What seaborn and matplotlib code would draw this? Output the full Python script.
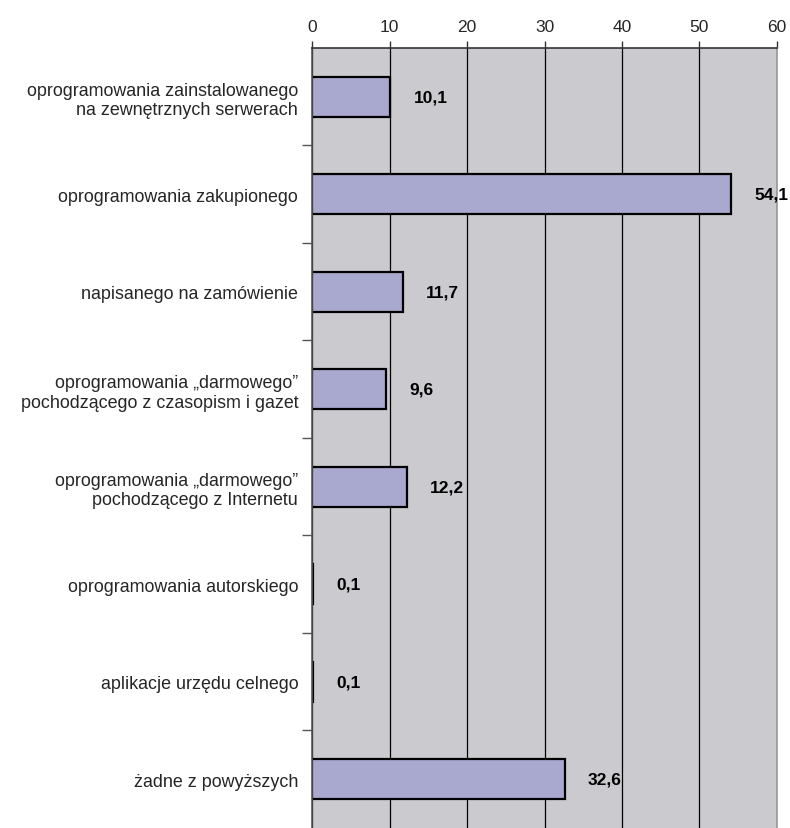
import matplotlib
matplotlib.use("Agg")
import matplotlib.pyplot as plt
import seaborn as sns
import pandas as pd
import numpy as np

# --- Data ---
categories = [
    "oprogramowania zainstalowanego\nna zewnętrznych serwerach",
    "oprogramowania zakupionego",
    "napisanego na zamówienie",
    "oprogramowania \u201edarmowego\u201d\npochodzącego z czasopism i gazet",
    "oprogramowania \u201edarmowego\u201d\npochodzącego z Internetu",
    "oprogramowania autorskiego",
    "aplikacje urzędu celnego",
    "żadne z powyższych",
]
values = [10.1, 54.1, 11.7, 9.6, 12.2, 0.1, 0.1, 32.6]
x_ticks = [0, 10, 20, 30, 40, 50, 60]

df = pd.DataFrame({"category": categories, "value": values})

sns.set_theme(style="white")
plt.rcParams["font.family"] = ["Liberation Sans", "DejaVu Sans"]

fig = plt.figure(figsize=(7.9, 8.29), dpi=100)
ax = fig.add_axes([0.395, 0.0, 0.5885, 0.941])
ax.set_facecolor("#CACACF")

sns.barplot(data=df, x="value", y="category", orient="h", color="#A9A8CF",
            saturation=1, width=0.41, edgecolor="black", linewidth=1.6, ax=ax)

ax.set_xlim(0, 60)
ax.set_ylim(len(categories) - 0.5, -0.5)
ax.xaxis.tick_top()
ax.set_xticks(x_ticks)
ax.set_xticklabels([str(t) for t in x_ticks], fontsize=12.5)
ax.tick_params(axis="x", direction="out", length=5, width=1, color="#333333",
               pad=5, top=True, bottom=False)
ax.grid(axis="x", color="black", linewidth=0.9)
ax.set_axisbelow(True)

# category boundaries as y ticks, labels at centres
ax.set_yticks(np.arange(len(categories)))
ax.set_yticklabels(categories, fontsize=12.9, linespacing=1.2)
ax.tick_params(axis="y", which="major", length=0, pad=10)
ax.set_yticks(np.arange(len(categories) - 1) + 0.5, minor=True)
ax.tick_params(axis="y", which="minor", direction="out", length=7, width=1,
               color="#555555", left=True)
for lab in ax.get_yticklabels():
    lab.set_horizontalalignment("right")
    lab.set_multialignment("right")

ax.set_xlabel("")
ax.set_ylabel("")

ax.spines["bottom"].set_visible(False)
ax.spines["top"].set_color("#333333")
ax.spines["top"].set_linewidth(1.2)
ax.spines["left"].set_color("#555555")
ax.spines["left"].set_linewidth(1.2)
ax.spines["right"].set_color("#999999")
ax.spines["right"].set_linewidth(1.2)

for i, v in enumerate(values):
    ax.text(v + 3.0, i, f"{v:.1f}".replace(".", ","), va="center", ha="left",
            fontsize=12.5, fontweight="bold", color="black")

plt.savefig("out.png", dpi=100)
